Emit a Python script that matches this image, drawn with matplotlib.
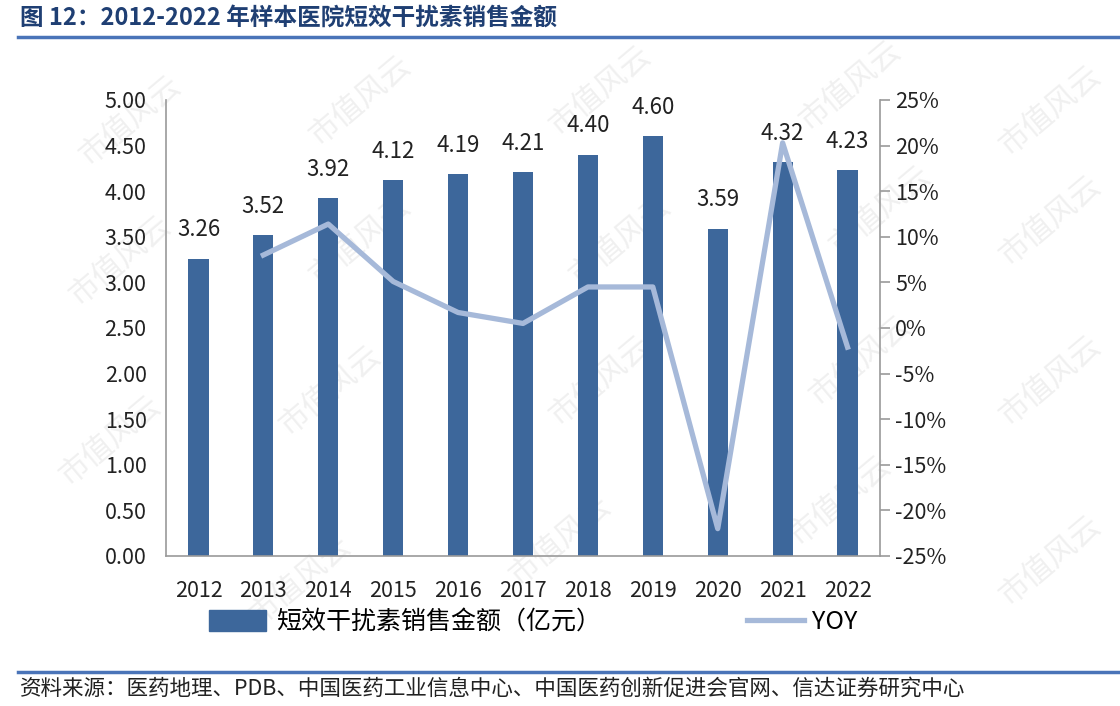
import matplotlib.pyplot as plt
import numpy as np
from matplotlib.lines import Line2D
from matplotlib.patches import Patch

plt.rcParams['font.family'] = ['Noto Sans CJK SC', 'DejaVu Sans']

# 数据
years = ['2012', '2013', '2014', '2015', '2016', '2017', '2018', '2019', '2020', '2021', '2022']
sales = [3.26, 3.52, 3.92, 4.12, 4.19, 4.21, 4.40, 4.60, 3.59, 4.32, 4.23]
yoy_years = ['2013', '2014', '2015', '2016', '2017', '2018', '2019', '2020', '2021', '2022']
yoy = [8.0, 11.4, 5.1, 1.7, 0.5, 4.5, 4.5, -22.0, 20.3, -2.1]

bar_c = '#3D679B'
line_c = '#A6B9D9'
title_c = '#1F3F73'

fig = plt.figure(figsize=(11.2, 7.06), dpi=100)

# 水印 (画在最底层)
wm = [(130, 120), (360, 100), (600, 90), (850, 85), (1050, 110),
      (120, 260), (360, 240), (620, 240), (880, 210), (1050, 220),
      (110, 440), (330, 390), (600, 380), (860, 360), (1050, 380),
      (300, 580), (560, 540), (840, 500), (1050, 560)]
for px, py in wm:
    fig.text(px/1120, 1-py/706, '市值风云', fontsize=22, color='#f0f0f0',
             rotation=40, ha='center', va='center', zorder=-5)

ax = fig.add_axes([166/1120, 1-556/706, (880-166)/1120, (556-100)/706], zorder=1)
ax.patch.set_alpha(0)

x = np.arange(len(years))
ax.bar(x, sales, width=0.31, color=bar_c, zorder=2)
for i, v in enumerate(sales):
    ax.text(x[i], v+0.19, '%.2f' % v, ha='center', va='bottom', fontsize=16, color='#222222')
ax.set_xlim(-0.5, len(years)-0.5)
ax.set_ylim(0, 5)
ax.set_yticks(np.arange(0, 5.01, 0.5))
ax.set_yticklabels(['%.2f' % t for t in np.arange(0, 5.01, 0.5)])
ax.set_xticks(x)
ax.set_xticklabels(years)
ax.tick_params(axis='y', length=0, pad=14, labelsize=15.5, colors='#222222')
ax.tick_params(axis='x', length=0, pad=17, labelsize=15.5, colors='#222222')
for s in ['top', 'right']:
    ax.spines[s].set_visible(False)
ax.spines['left'].set_color('#9a9a9a')
ax.spines['bottom'].set_color('#9a9a9a')
ax.spines['left'].set_linewidth(1.2)
ax.spines['bottom'].set_linewidth(1.2)

ax2 = ax.twinx()
ax2.patch.set_alpha(0)
xi = [years.index(y) for y in yoy_years]
ax2.plot(xi, yoy, color=line_c, lw=3.8, zorder=3)
ax2.set_ylim(-25, 25)
ax2.set_yticks(range(-25, 26, 5))
ax2.set_yticklabels(['%d%%' % t for t in range(-25, 26, 5)])
ax2.tick_params(axis='y', length=7, width=1.2, pad=4, labelsize=15.5, labelcolor='#222222', color='#9a9a9a')
for s in ['top', 'left', 'bottom']:
    ax2.spines[s].set_visible(False)
ax2.spines['right'].set_color('#9a9a9a')
ax2.spines['right'].set_linewidth(1.2)

# 图例
h1 = Patch(color=bar_c)
h2 = Line2D([0], [0], color=line_c, lw=3.8)
fig.legend([h1], ['短效干扰素销售金额（亿元）'], loc='center left', bbox_to_anchor=(186/1120, 1-622/706),
           frameon=False, fontsize=18, handlelength=2.3, handleheight=0.9, handletextpad=0.4)
fig.legend([h2], ['YOY'], loc='center left', bbox_to_anchor=(724/1120, 1-622/706),
           frameon=False, fontsize=18, handlelength=2.3, handletextpad=0.3)

# 标题和来源
fig.text(20/1120, 1-18/706, '图 12：2012-2022 年样本医院短效干扰素销售金额', fontsize=17,
         fontweight='bold', color=title_c, va='center', ha='left')
fig.add_artist(Line2D([18/1120, 1.0], [1-37/706, 1-37/706], color='#4A74B8', lw=2.5))
fig.add_artist(Line2D([18/1120, 1.0], [1-672/706, 1-672/706], color='#4A74B8', lw=2.5))
fig.text(20/1120, 1-689/706, '资料来源：医药地理、PDB、中国医药工业信息中心、中国医药创新促进会官网、信达证券研究中心',
         fontsize=15.5, color='#222222', va='center', ha='left', style='italic')

fig.savefig('out.png', dpi=100)
